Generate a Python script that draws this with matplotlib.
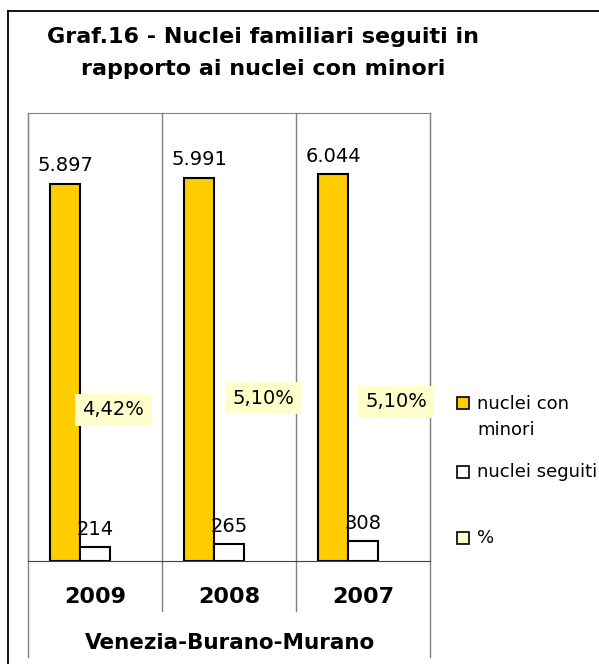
import numpy as np
import matplotlib.pyplot as plt
from matplotlib.lines import Line2D
from matplotlib.patches import Rectangle

# data
years = ['2009', '2008', '2007']
nuclei_minori = [5897, 5991, 6044]
nuclei_seguiti = [214, 265, 308]
percentuale = [4.42, 5.10, 5.10]
perc_labels = ['4,42%', '5,10%', '5,10%']
series_names = ['nuclei con\nminori', 'nuclei seguiti', '%']
area = 'Venezia-Burano-Murano'
title = 'Graf.16 - Nuclei familiari seguiti in\nrapporto ai nuclei con minori'

orange = '#FFCC00'
pale = '#FFFFCC'
grey = '#808080'

W, H = 599, 664
fig = plt.figure(figsize=(W / 100, H / 100), dpi=100)

def fx(px):
    return px / W

def fy(py):
    return 1 - py / H

# outer frame (left and top edges visible)
fig.add_artist(Line2D([fx(8), fx(8)], [fy(11), fy(664)], color='black', lw=1.3))
fig.add_artist(Line2D([fx(8), fx(599)], [fy(11), fy(11)], color='black', lw=1.3))

fig.text(fx(263), fy(53), title, ha='center', va='center', fontsize=16,
         fontweight='bold', linespacing=1.7)

ax = fig.add_axes([fx(28), fy(561), fx(430 - 28), (561 - 113) / H])
x = np.arange(len(years))
bw = 30 / 134

ax.bar(x - bw, nuclei_minori, bw, color=orange, edgecolor='black', linewidth=1.5)
ax.bar(x, nuclei_seguiti, bw, color='white', edgecolor='black', linewidth=1.5)
ax.bar(x + bw, [p / 100 for p in percentuale], bw, color=pale, edgecolor='none')

ax.set_xlim(-0.5, len(years) - 0.5)
ax.set_ylim(0, 7000)
ax.set_xticks([])
ax.set_yticks([])
for s in ['left', 'right', 'top']:
    ax.spines[s].set_color(grey)
ax.spines['bottom'].set_color('#404040')

# category separators and multi-level category table lines
for b in np.arange(0.5, len(years) - 0.5):
    ax.axvline(b, ymin=-0.112, ymax=1, color=grey, lw=1, clip_on=False)
for b in [-0.5, len(years) - 0.5]:
    ax.axvline(b, ymin=-0.214, ymax=1, color=grey, lw=1, clip_on=False)

for xi, v in zip(x - bw, nuclei_minori):
    ax.annotate(f'{v:,}'.replace(',', '.'), (xi, v), xytext=(0, 6),
                textcoords='offset points', ha='center', va='bottom', fontsize=14)
for xi, v in zip(x, nuclei_seguiti):
    ax.annotate(str(v), (xi, v), xytext=(0, 6),
                textcoords='offset points', ha='center', va='bottom', fontsize=14)

# % labels were moved by hand in the original
perc_pos = [(0.134, 2360), (0.254, 2545), (0.246, 2485)]
for xi, (dx, yy), lab in zip(x, perc_pos, perc_labels):
    ax.text(xi + dx, yy, lab, ha='center', va='center', fontsize=14,
            bbox=dict(boxstyle='square,pad=0.35', fc=pale, ec='none'))

# category labels
for xi, yr in zip(x, years):
    ax.text(xi, -0.08 * 7000, yr, ha='center', va='center', fontsize=16,
            fontweight='bold')
fig.text(fx(230), fy(643), area, ha='center', va='center', fontsize=15.5,
         fontweight='bold')

# legend
leg_y = [403, 472, 538]
leg_fc = [orange, 'white', pale]
for yy, fc, name in zip(leg_y, leg_fc, series_names):
    fig.add_artist(Rectangle((fx(457), fy(yy + 6)), fx(12), 12 / H, fc=fc,
                             ec='black', lw=1.2))
    ty = yy + 14 if '\n' in name else yy
    fig.text(fx(477), fy(ty), name, ha='left', va='center',
             fontsize=13, linespacing=1.55)

fig.savefig('out.png', dpi=100)
